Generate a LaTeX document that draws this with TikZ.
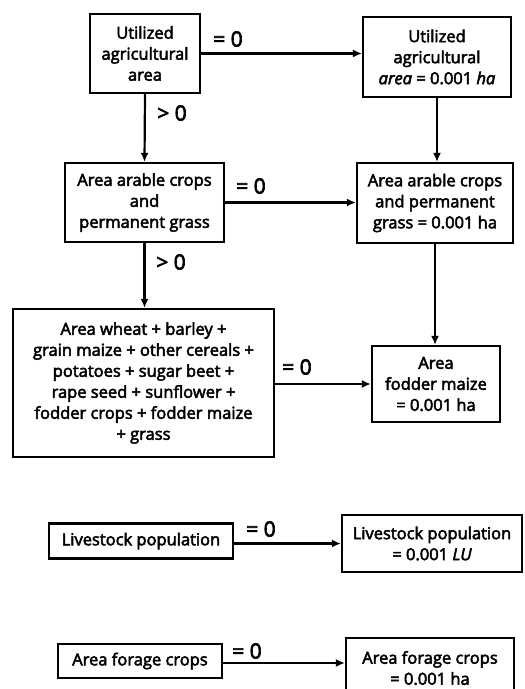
\documentclass[tikz,border=0pt]{standalone}
\usepackage{fontspec}
\setmainfont{Open Sans}[FakeBold=3]
\usetikzlibrary{arrows.meta}
\begin{document}
\begin{tikzpicture}[x=1pt,y=1pt,
  box/.style={draw, line width=2.2pt, align=center, inner sep=1pt,
    font=\fontsize{16.5}{21}\selectfont},
  arr/.style={line width=2.2pt, -{Latex[length=9pt,width=8pt]}},
  lbl/.style={font=\fontsize{21}{21}\selectfont, inner sep=0pt}]
\useasboundingbox (0,0) rectangle (525,-689);

% main chain
\node[box, minimum width=110, minimum height=79] (A) at (145,-53.5)
  {Utilized\\agricultural\\area};
\node[box, minimum width=148, minimum height=80] (B) at (437,-57)
  {Utilized\\agricultural\\\textit{area} = 0.001 \textit{ha}};
\node[box, minimum width=159, minimum height=79] (C) at (144.5,-202.5)
  {Area arable crops\\and\\permanent grass};
\node[box, minimum width=156, minimum height=80] (D) at (435,-203)
  {Area arable crops\\and permanent\\grass = 0.001 ha};
\node[box, minimum width=261, minimum height=148] (E) at (143.5,-383)
  {Area wheat + barley +\\grain maize + other cereals +\\potatoes + sugar beet +\\rape seed + sunflower +\\fodder crops + fodder maize\\+ grass};
\node[box, minimum width=128, minimum height=76] (F) at (436,-384)
  {Area\\fodder maize\\= 0.001 ha};

% separate checks
\node[box, minimum width=184, minimum height=35] (G) at (141,-541)
  {Livestock population};
\node[box, minimum width=180, minimum height=57] (H) at (432,-543.5)
  {Livestock population\\= 0.001 \textit{LU}};
\node[box, minimum width=164, minimum height=34] (G2) at (140,-661)
  {Area forage crops};
\node[box, minimum width=168, minimum height=60] (H2) at (430,-668)
  {Area forage crops\\= 0.001 ha};

% connectors
\draw[arr] (A.east) -- (A.east -| B.west);
\draw[arr] (A.south) -- (C.north);
\draw[arr] (B.south) -- (B.south |- D.north);
\draw[arr] (C.east) -- (C.east -| D.west);
\draw[arr] (C.south) -- (C.south |- E.north);
\draw[arr] (D.south) -- (D.south |- F.north);
\draw[arr] (E.east |- F.west) -- (F.west);
\draw[arr] (G.east |- H.west) -- (H.west);
\draw[arr] (G2.east |- 0,-663) -- (H2.west |- 0,-663);

% condition labels
\node[lbl] (l1) at (228,-39) {= 0};
\node[lbl] (l2) at (172,-113) {> 0};
\node[lbl] (l3) at (251,-186) {= 0};
\node[lbl] (l4) at (171,-262) {> 0};
\node[lbl] (l5) at (297,-367) {= 0};
\node[lbl] (l6) at (261,-529) {= 0};
\node[lbl] (l7) at (247,-651) {= 0};
\end{tikzpicture}
\end{document}
